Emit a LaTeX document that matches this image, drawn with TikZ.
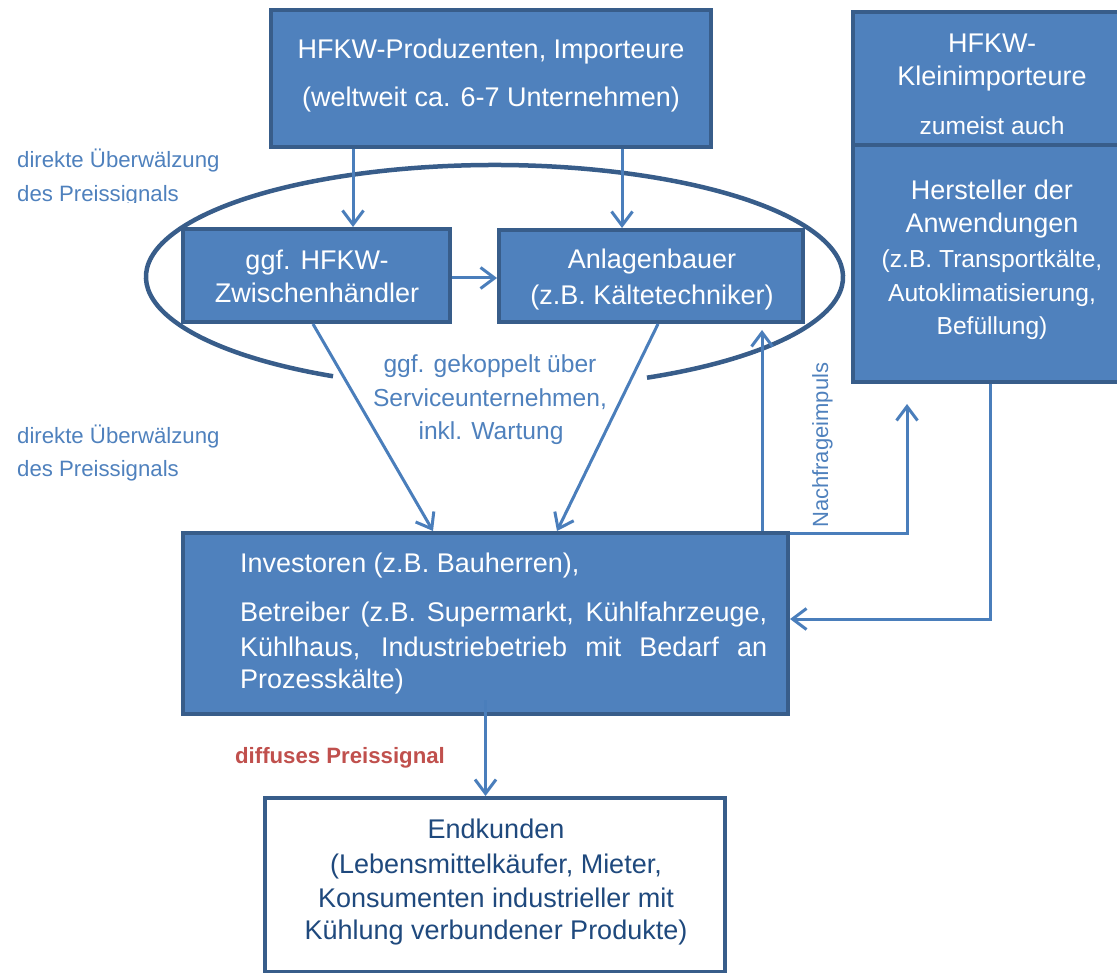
\documentclass[tikz,border=0pt]{standalone}
\usepackage{fontspec}
\setmainfont{Liberation Sans}
\usetikzlibrary{arrows.meta}
\definecolor{boxfill}{HTML}{4F81BD}
\definecolor{boxline}{HTML}{385D8A}
\definecolor{arrcol}{HTML}{4A7EBB}
\definecolor{lbl}{HTML}{4F81BD}
\definecolor{navy}{HTML}{1F497D}
\definecolor{redlbl}{HTML}{C0504D}
\begin{document}
\begin{tikzpicture}[x=1pt,y=-1pt,
  box/.style={draw=boxline, fill=boxfill, line width=4pt, inner sep=0pt, rectangle},
  wbox/.style={draw=boxline, fill=white, line width=4pt, inner sep=0pt, rectangle},
  wt/.style={text=white, inner sep=0pt, anchor=base, font=\fontsize{27}{33}\selectfont},
  ws/.style={text=white, inner sep=0pt, anchor=base, font=\fontsize{24.6}{30}\selectfont},
  nt/.style={text=navy, inner sep=0pt, anchor=base, font=\fontsize{27}{33}\selectfont},
  bl/.style={text=lbl, inner sep=0pt, anchor=base, font=\fontsize{24.6}{30}\selectfont},
  bs/.style={text=lbl, inner sep=0pt, anchor=base west, font=\fontsize{22.2}{27}\selectfont},
  arr/.style={draw=arrcol, line width=3pt, -{Straight Barb[length=14pt,width=21pt]}},
  ell/.style={draw=boxline, line width=4.5pt}
]
\useasboundingbox (0,0) rectangle (1117,973);

% ellipse (open at the bottom)
\draw[ell] (494.5,277) ++(117.6:348.5 and 112) arc[start angle=117.6, end angle=424.05, x radius=348.5, y radius=112];

% boxes
\node[box, minimum width=440pt, minimum height=137pt] (prod) at (491,78.5) {};
\node[box, minimum width=267pt, minimum height=93pt] (zw) at (316.5,275.5) {};
\node[box, minimum width=304pt, minimum height=92pt] (an) at (651,276) {};
\node[box, minimum width=300pt, minimum height=133pt] (klein) at (1003,78.5) {};
\node[box, minimum width=300pt, minimum height=237pt] (herst) at (1003,263.5) {};
\node[box, minimum width=605pt, minimum height=181pt] (inv) at (485.5,623.5) {};
\node[wbox, minimum width=460pt, minimum height=174pt] (end) at (495,885) {};

% box texts
\node[wt] (prodA) at (491,59) {HFKW-Produzenten, Importeure};
\node[wt] (prodB) at (491,107) {(weltweit ca. 6-7 Unternehmen)};
\node[wt] (zwA) at (317,270) {ggf. HFKW-};
\node[wt] (zwB) at (317,303) {Zwischenhändler};
\node[wt] (anA) at (652,269) {Anlagenbauer};
\node[wt] (anB) at (652,305) {(z.B. Kältetechniker)};
\node[wt] (kleinA) at (992,53) {HFKW-};
\node[wt] (kleinB) at (992,86) {Kleinimporteure};
\node[ws] (kleinC) at (992,135) {zumeist auch};
\node[wt] (herstA) at (992,200) {Hersteller der};
\node[wt] (herstB) at (992,233) {Anwendungen};
\node[ws] (herstC) at (992,268) {(z.B. Transportkälte,};
\node[ws] (herstD) at (992,302) {Autoklimatisierung,};
\node[ws] (herstE) at (992,335) {Befüllung)};
\node[wt, anchor=base west] (invA) at (240,572) {Investoren (z.B. Bauherren),};
\node[wt, anchor=base west] (invB) at (240,621) {\makebox[527pt][s]{Betreiber (z.B. Supermarkt, Kühlfahrzeuge,}};
\node[wt, anchor=base west] (invC) at (240,656) {\makebox[527pt][s]{Kühlhaus, Industriebetrieb mit Bedarf an}};
\node[wt, anchor=base west] (invD) at (240,688) {Prozesskälte)};
\node[nt] (endA) at (496,838) {Endkunden};
\node[nt] (endB) at (496,873) {(Lebensmittelkäufer, Mieter,};
\node[nt] (endC) at (496,907) {Konsumenten industrieller mit};
\node[nt] (endD) at (496,939) {Kühlung verbundener Produkte)};

% free labels
\begin{scope}
  \clip (0,0) rectangle (260,203);
  \node[bs] (lab1A) at (17,168) {direkte Überwälzung};
  \node[bs] (lab1B) at (17,202) {des Preissignals};
\end{scope}
\node[bs] (lab2A) at (17,444) {direkte Überwälzung};
\node[bs] (lab2B) at (17,477) {des Preissignals};
\node[bl] (midA) at (490,373) {ggf. gekoppelt über};
\node[bl] (midB) at (490,407) {Serviceunternehmen,};
\node[bl] (midC) at (491,440) {inkl. Wartung};
\node[text=redlbl, inner sep=0pt, anchor=base, font=\fontsize{22.2}{27}\selectfont\bfseries] (diff) at (340,763) {diffuses Preissignal};
\node[text=lbl, inner sep=0pt, anchor=base west, rotate=90, font=\fontsize{22}{27}\selectfont] (nach) at (828,528) {Nachfrageimpuls};

% connectors
\coordinate (a1) at (353,0);
\coordinate (a2) at (622,0);
\coordinate (a3) at (0,278);
\coordinate (h1) at (907,0);
\coordinate (h2) at (990,0);
\coordinate (h3) at (0,619);
\draw[arr] (prod.south -| a1) -- (zw.north -| a1);
\draw[arr] (prod.south -| a2) -- (an.north -| a2);
\draw[arr] (zw.east |- a3) -- (an.west |- a3);
\draw[arr] ([xshift=-3.5pt]zw.south) -- ([xshift=-52.5pt]inv.north);
\draw[arr] ([xshift=7pt]an.south) -- ([xshift=71.5pt]inv.north);
\draw[arr, shorten >=6pt] ([xshift=276.5pt]inv.north) -- ([xshift=276.5pt]inv.north |- an.south);
\draw[arr, shorten >=20pt] ([yshift=-2pt]inv.north east) -| (h1 |- herst.south);
\draw[arr] (herst.south -| h2) |- (inv.east |- h3);
\draw[arr] ([yshift=16pt]inv.south) -- (end.north -| inv.south);
\end{tikzpicture}
\end{document}
